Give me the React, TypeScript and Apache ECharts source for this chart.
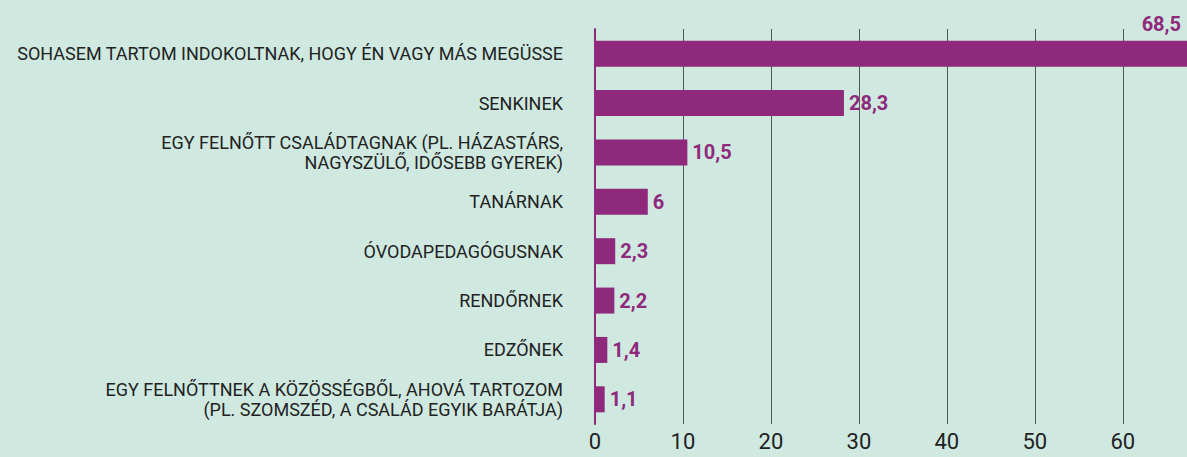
import React, { useEffect, useRef } from "react";
import * as echarts from "echarts";

const categories = [
  "SOHASEM TARTOM INDOKOLTNAK, HOGY ÉN VAGY MÁS MEGÜSSE",
  "SENKINEK",
  "EGY FELNŐTT CSALÁDTAGNAK (PL. HÁZASTÁRS,\nNAGYSZÜLŐ, IDŐSEBB GYEREK)",
  "TANÁRNAK",
  "ÓVODAPEDAGÓGUSNAK",
  "RENDŐRNEK",
  "EDZŐNEK",
  "EGY FELNŐTTNEK A KÖZÖSSÉGBŐL, AHOVÁ TARTOZOM\n(PL. SZOMSZÉD, A CSALÁD EGYIK BARÁTJA)",
];
const values = [68.5, 28.3, 10.5, 6, 2.3, 2.2, 1.4, 1.1];
const axisMax = 67.3;

const PURPLE = "#8e297b";
const BG = "#cfe9e1";
const FONT = "Roboto, 'Open Sans', sans-serif";

const fmt = (v: number) => String(v).replace(".", ",");

export default function App() {
  const ref = useRef<HTMLDivElement>(null);
  useEffect(() => {
    document.body.style.margin = "0";
    if (!ref.current) return;
    const chart = echarts.init(ref.current, null, { renderer: "svg" });
    const data = values.map((v, i) =>
      i === 0
        ? {
            value: v,
            label: {
              position: ["100%", 0],
              offset: [-6, -7],
              align: "right",
              verticalAlign: "bottom",
            },
          }
        : v
    );
    chart.setOption({
      animation: false,
      backgroundColor: BG,
      grid: { left: 595, right: 0, top: 29, bottom: 33, containLabel: false },
      xAxis: {
        type: "value",
        min: 0,
        max: axisMax,
        interval: 10,
        axisLine: { show: false },
        axisTick: { show: false },
        axisLabel: {
          color: "#222",
          fontFamily: FONT,
          fontSize: 22,
          margin: 6,
          showMaxLabel: false,
          formatter: (v: number) => (v % 10 === 0 ? String(v) : ""),
        },
        splitLine: {
          show: true,
          showMaxLine: false,
          lineStyle: { color: "#555", width: 1 },
        },
      },
      yAxis: {
        type: "category",
        data: categories,
        inverse: true,
        axisLine: { show: true, lineStyle: { color: PURPLE, width: 2 } },
        axisTick: { show: false },
        axisLabel: {
          color: "#222",
          fontFamily: FONT,
          fontSize: 18,
          lineHeight: 20,
          margin: 32,
          align: "right",
        },
      },
      series: [
        {
          type: "bar",
          data,
          barWidth: 26,
          clip: true,
          itemStyle: { color: PURPLE },
          label: {
            show: true,
            position: "right",
            distance: 5,
            color: PURPLE,
            fontFamily: FONT,
            fontWeight: "bold",
            fontSize: 20,
            formatter: (p: any) => fmt(p.value),
          },
        },
      ],
    });
    return () => chart.dispose();
  }, []);
  return <div ref={ref} style={{ width: 1187, height: 457 }} />;
}
